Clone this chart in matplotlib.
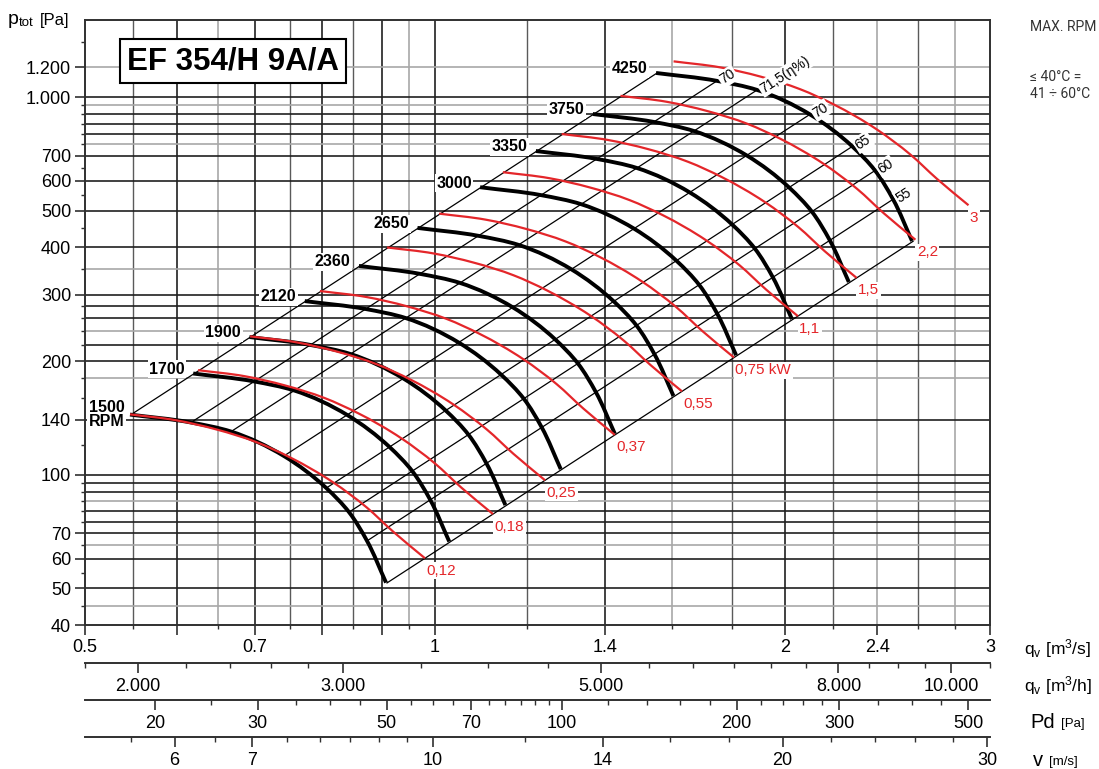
import numpy as np
import matplotlib
matplotlib.use('Agg')
import matplotlib.pyplot as plt
from matplotlib.ticker import FixedLocator, FixedFormatter, NullFormatter
from matplotlib.path import Path
from matplotlib.patches import PathPatch

plt.rcParams['font.family'] = ['Liberation Sans', 'DejaVu Sans']
plt.rcParams['mathtext.fontset'] = 'custom'
plt.rcParams['mathtext.rm'] = 'Liberation Sans'
plt.rcParams['mathtext.it'] = 'Liberation Sans'

# ---------------- data ----------------
rpm = [1500, 1700, 1900, 2120, 2360, 2650, 3000, 3350, 3750, 4250]
rpm_labels = ['1500\nRPM', '1700', '1900', '2120', '2360', '2650', '3000', '3350', '3750', '4250']

# fan curve at 1500 RPM (q [m3/s], p [Pa])
base_q = [0.5466, 0.6167, 0.6677, 0.7413, 0.8062, 0.8433, 0.8739, 0.9074]
base_p = [144.3, 137.5, 130.1, 112.1, 92.2, 79.6, 66.8, 51.8]

# system lines (points on the 1500 RPM curve) and efficiency labels
diag_q = [0.5476, 0.6167, 0.6677, 0.7413, 0.8062, 0.8433, 0.8739, 0.9092]
diag_p = [144.2, 137.5, 130.1, 112.1, 92.2, 79.6, 66.8, 51.7]
eff_labels = ['', '70', '71,5(η%)', '70', '65', '60', '55', '']

# absorbed-power curve (0.12 kW)
red_q = [0.5466, 0.5994, 0.6491, 0.7024, 0.7502, 0.8170, 0.8734, 0.9207, 0.9801]
red_p = [144.5, 139.3, 131.7, 121.9, 111.2, 95.5, 81.9, 70.6, 60.1]
kw_labels = ['0,12', '0,18', '0,25', '0,37', '0,55', '0,75 kW', '1,1', '1,5', '2,2', '3']
kw_start_q = [0.5466, 0.6254, 0.6933, 0.7961, 0.9092, 1.0079, 1.1436, 1.2848, 1.4434, 1.6034]

# axes
x_major = [0.5, 0.6, 0.7, 0.8, 0.9, 1.0, 1.4, 2.0, 2.4, 3.0]
x_major_lbl = ['0.5', '', '0.7', '', '', '1', '1.4', '2', '2.4', '3']
x_minor = [0.55, 0.65, 0.75, 0.85, 0.95, 1.2, 1.6, 1.8, 2.2, 2.6, 2.8]
y_major = [40, 50, 60, 70, 100, 140, 200, 300, 400, 500, 600, 700, 1000, 1200]
y_major_lbl = ['40', '50', '60', '70', '100', '140', '200', '300', '400', '500', '600', '700', '1.000', '1.200']
y_minor = [45, 55, 65, 75, 80, 85, 90, 95, 120, 160, 180, 220, 240, 260, 280, 350, 450, 550,
           650, 750, 800, 850, 900, 950, 1400]

xgrid_black = [0.6, 0.7, 0.8, 0.9, 1.0, 1.4, 2.0]
xgrid_dark = [0.55, 0.75, 0.85, 1.2, 1.8, 2.2, 2.6]
xgrid_light = [0.65, 0.95, 1.6, 2.4, 2.8]
ygrid_black = [50, 60, 70, 75, 80, 90, 95, 100, 140, 200, 220, 260, 280, 300, 400, 500, 600, 700,
               800, 850, 900, 1000]
ygrid_light = [45, 65, 85, 180, 240, 350, 750, 950, 1200]

mh_major = [2000, 3000, 5000, 8000, 10000]
mh_lbl = ['2.000', '3.000', '5.000', '8.000', '10.000']
mh_minor = [1800, 2200, 2400, 2600, 2800, 3500, 4000, 4500, 5500, 6000, 6500, 7000, 7500, 8500,
            9000, 9500, 10800]
pd_major = [20, 30, 50, 70, 100, 200, 300, 500]
pd_minor = [25, 35, 40, 45, 55, 60, 65, 75, 80, 85, 90, 95, 120, 140, 160, 180, 220, 240, 260,
            280, 350, 400, 450]
v_major = [6, 7, 10, 14, 20, 30]
v_minor = [5.5, 6.5, 7.5, 8, 8.5, 9, 9.5, 12, 16, 18, 22, 24, 26, 28]

AREA = 0.0995      # outlet area [m2]  (v = q / AREA)
RHO = 1.2

# ---------------- figure ----------------
W, H = 1099, 769
fig = plt.figure(figsize=(W / 100, H / 100), dpi=100)


def fx(px):
    return px / W


def fy(py):
    return 1 - py / H


ax = fig.add_axes([fx(85), fy(625), (990 - 85) / W, (625 - 20) / H])
ax.set_xscale('log')
ax.set_yscale('log')
ax.set_xlim(0.5, 3.0)
ax.set_ylim(40, 1600)


def smooth_path(xs, ys):
    """Smooth Bezier path through the given points (chord-length Hermite in screen space)."""
    P = ax.transData.transform(np.column_stack([xs, ys]))
    n = len(P)
    h = np.hypot(*np.diff(P, axis=0).T)
    T = np.zeros_like(P)
    T[0] = (P[1] - P[0]) / h[0]
    T[-1] = (P[-1] - P[-2]) / h[-1]
    for i in range(1, n - 1):
        d0 = (P[i] - P[i - 1]) / h[i - 1]
        d1 = (P[i + 1] - P[i]) / h[i]
        T[i] = (d0 * h[i] + d1 * h[i - 1]) / (h[i - 1] + h[i])
    verts = [P[0]]
    codes = [Path.MOVETO]
    for i in range(n - 1):
        verts += [P[i] + T[i] * h[i] / 3, P[i + 1] - T[i + 1] * h[i] / 3, P[i + 1]]
        codes += [Path.CURVE4] * 3
    return Path(ax.transData.inverted().transform(np.array(verts)), codes)


RED = '#e4262a'
# grid
for v in xgrid_black:
    ax.axvline(v, color='#202020', lw=1.2, zorder=1)
for v in xgrid_dark:
    ax.axvline(v, color='#5a5a5a', lw=1.0, zorder=1)
for v in xgrid_light:
    ax.axvline(v, color='#a8a8a8', lw=1.2, zorder=1)
for v in ygrid_black:
    ax.axhline(v, color='#202020', lw=1.2, zorder=1)
for v in ygrid_light:
    ax.axhline(v, color='#a8a8a8', lw=1.2, zorder=1)

# ticks
ax.xaxis.set_major_locator(FixedLocator(x_major))
ax.xaxis.set_major_formatter(FixedFormatter(x_major_lbl))
ax.xaxis.set_minor_locator(FixedLocator(x_minor))
ax.xaxis.set_minor_formatter(NullFormatter())
ax.yaxis.set_major_locator(FixedLocator(y_major))
ax.yaxis.set_major_formatter(FixedFormatter(y_major_lbl))
ax.yaxis.set_minor_locator(FixedLocator(y_minor))
ax.yaxis.set_minor_formatter(NullFormatter())
ax.tick_params(which='major', length=7, width=1.2, labelsize=13, pad=3, color='#303030')
ax.tick_params(which='minor', length=3, width=1.0, color='#303030')
for s in ax.spines.values():
    s.set_linewidth(1.4)
    s.set_color('#303030')

kmax = rpm[-1] / rpm[0]
# system lines
for dq, dp, lbl in zip(diag_q, diag_p, eff_labels):
    xs = [dq, dq * kmax]
    ys = [dp, dp * kmax ** 2]
    ax.plot(xs, ys, color='black', lw=0.9, zorder=3)
    if lbl:
        p0 = ax.transData.transform((xs[0], ys[0]))
        p1 = ax.transData.transform((xs[1], ys[1]))
        ang = np.degrees(np.arctan2(p1[1] - p0[1], p1[0] - p0[0]))
        ax.annotate(lbl, (xs[1], ys[1]), xytext=(3, 0), textcoords='offset points',
                    rotation=ang, rotation_mode='anchor', ha='left', va='center',
                    fontsize=10, zorder=6,
                    bbox=dict(boxstyle='square,pad=0.1', fc='white', ec='none'))

# fan curves
bq = np.array(base_q)
bp = np.array(base_p)
for n, lbl in zip(rpm, rpm_labels):
    k = n / rpm[0]
    ax.add_patch(PathPatch(smooth_path(bq * k, bp * k ** 2), fill=False, ec='black', lw=2.8,
                           capstyle='butt', zorder=4))
    ax.annotate(lbl, (bq[0] * k, bp[0] * k ** 2), xytext=(-6, 3) if n > 1500 else (-4, 0),
                textcoords='offset points', ha='right', va='center', fontsize=11.5,
                fontweight='bold', linespacing=0.9, zorder=6,
                bbox=dict(boxstyle='square,pad=0.1', fc='white', ec='none'))

# power curves
rq = np.array(red_q)
rp = np.array(red_p)
for sq, lbl in zip(kw_start_q, kw_labels):
    k = sq / red_q[0]
    ax.add_patch(PathPatch(smooth_path(rq * k, rp * k ** 2), fill=False, ec=RED, lw=1.6,
                           zorder=5))
    ax.annotate(lbl, (rq[-1] * k, rp[-1] * k ** 2), xytext=(1, -4), textcoords='offset points',
                ha='left', va='top', fontsize=11, color=RED, zorder=6,
                bbox=dict(boxstyle='square,pad=0.1', fc='white', ec='none'))

# title box
fig.text(fx(233), fy(61), 'EF 354/H 9A/A', fontsize=22.5, fontweight='bold', ha='center',
         va='center', bbox=dict(boxstyle='square,pad=0.22', fc='white', ec='black', lw=1.5),
         zorder=10)

# y axis title
fig.text(fx(8), fy(20), 'p', fontsize=14, ha='left', va='center')
fig.text(fx(19), fy(23), 'tot', fontsize=9.5, ha='left', va='center')
fig.text(fx(40), fy(20), '[Pa]', fontsize=12, ha='left', va='center')

# right note
note_font = ['Roboto', 'DejaVu Sans']
fig.text(fx(1030), fy(27), 'MAX. RPM', fontsize=10, ha='left', va='center', color='#333333',
         family=note_font)
fig.text(fx(1030), fy(77), '≤ 40°C =', fontsize=10, ha='left', va='center', color='#333333',
         family=note_font)
fig.text(fx(1030), fy(94), '41 ÷ 60°C', fontsize=10, ha='left', va='center', color='#333333',
         family=note_font)


# secondary scales
def sec_axis(ypx, lim, major, labels, minor):
    a = fig.add_axes([fx(85), fy(ypx), (990 - 85) / W, 1e-4])
    a.set_xscale('log')
    a.set_xlim(lim)
    a.set_yticks([])
    a.patch.set_visible(False)
    for s in ['top', 'left', 'right']:
        a.spines[s].set_visible(False)
    a.spines['bottom'].set_linewidth(1.4)
    a.spines['bottom'].set_color('#303030')
    a.xaxis.set_major_locator(FixedLocator(major))
    a.xaxis.set_major_formatter(FixedFormatter(labels))
    a.xaxis.set_minor_locator(FixedLocator(minor))
    a.xaxis.set_minor_formatter(NullFormatter())
    a.tick_params(which='major', length=7, width=1.2, labelsize=13, pad=4, color='#303030')
    a.tick_params(which='minor', length=3.5, width=1.0, color='#303030')
    return a


def v_of(q):
    return q / AREA


def pd_of(q):
    return 0.5 * RHO * v_of(q) ** 2


sec_axis(663, (0.5 * 3600, 3.0 * 3600), mh_major, mh_lbl, mh_minor)
sec_axis(700, (pd_of(0.5), pd_of(3.0)), pd_major, [str(v) for v in pd_major], pd_minor)
sec_axis(737, (v_of(0.5), v_of(3.0)), v_major, [str(v) for v in v_major], v_minor)

# unit labels
fig.text(fx(1024), fy(649), r'q$_{\mathrm{v}}$ [m$^{3}$/s]', fontsize=12.5, ha='left', va='center')
fig.text(fx(1024), fy(686), r'q$_{\mathrm{v}}$ [m$^{3}$/h]', fontsize=12.5, ha='left', va='center')
fig.text(fx(1030), fy(722), 'Pd', fontsize=14.5, ha='left', va='center')
fig.text(fx(1061), fy(724), '[Pa]', fontsize=9.5, ha='left', va='center')
fig.text(fx(1033), fy(760), 'v', fontsize=14.5, ha='left', va='center')
fig.text(fx(1049), fy(762), '[m/s]', fontsize=9.5, ha='left', va='center')

fig.savefig('out.png', dpi=100, facecolor='white')
